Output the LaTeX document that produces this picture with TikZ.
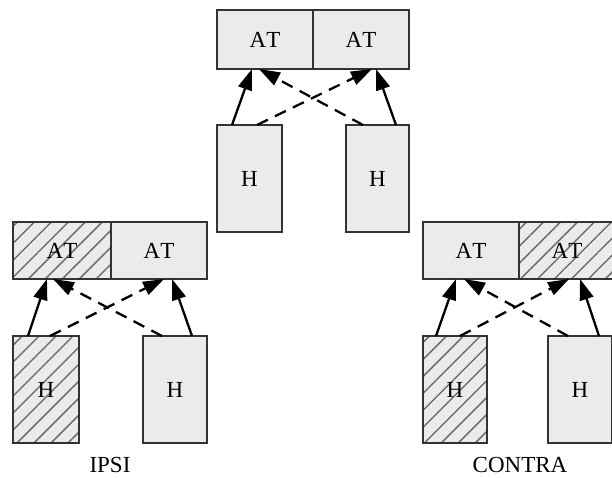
\documentclass[tikz,border=0pt]{standalone}
\usepackage{fontspec}
\setmainfont[Kerning=Off]{Liberation Serif}
\usetikzlibrary{arrows.meta,patterns.meta,calc}
\definecolor{boxfill}{HTML}{EBEBEB}
\definecolor{boxline}{HTML}{333333}
\definecolor{hatch}{HTML}{707070}
\tikzset{
  cell/.style={draw=boxline, fill=boxfill, line width=1.8pt, inner sep=0pt, outer sep=0pt,
    font=\fontsize{23}{25}\selectfont, anchor=north west},
  hatched/.style={preaction={fill=boxfill}, fill=none,
    pattern={Lines[angle=45,distance=12pt,line width=1.5pt]}, pattern color=hatch},
  solidarr/.style={line width=2.3pt, -{Triangle[length=21pt,width=14pt]}},
  dasharr/.style={line width=2.3pt, dash pattern=on 12pt off 8pt, -{Triangle[length=21pt,width=14pt]}},
  lbl/.style={font=\fontsize{23}{25}\selectfont, inner sep=0pt}
}
\begin{document}
\begin{tikzpicture}[x=1pt, y=-1pt]
\clip (0,0) rectangle (612,477);
\useasboundingbox (0,0) rectangle (612,477);
\fill[white] (0,0) rectangle (612,477);
% top group
\node[cell, minimum width=96pt, minimum height=59pt] (ta) at (217,10) {AT};
\node[cell, minimum width=96pt, minimum height=59pt] (tb) at (313,10) {AT};
\node[cell, minimum width=65pt, minimum height=107pt] (th1) at (217,125) {H};
\node[cell, minimum width=63pt, minimum height=107pt] (th2) at (346,125) {H};
\draw[solidarr] ($(th1.north west)+(15,0)$) -- ($(ta.south west)+(35,0)$);
\draw[dasharr] ($(th1.north west)+(40,0)$) -- ($(tb.south west)+(59,0)$);
\draw[dasharr] ($(th2.north west)+(17,0)$) -- ($(ta.south west)+(42,0)$);
\draw[solidarr] ($(th2.north west)+(50,0)$) -- ($(tb.south west)+(63,0)$);
% bottom-left group (IPSI)
\node[cell, hatched, minimum width=98pt, minimum height=57pt] (la) at (13,222) {AT};
\node[cell, minimum width=96pt, minimum height=57pt] (lb) at (111,222) {AT};
\node[cell, hatched, minimum width=66pt, minimum height=107pt] (lh1) at (13,336) {H};
\node[cell, minimum width=64pt, minimum height=107pt] (lh2) at (143,336) {H};
\draw[solidarr] ($(lh1.north west)+(15,0)$) -- ($(la.south west)+(34,0)$);
\draw[dasharr] ($(lh1.north west)+(37,0)$) -- ($(lb.south west)+(53,0)$);
\draw[dasharr] ($(lh2.north west)+(19,0)$) -- ($(la.south west)+(40,0)$);
\draw[solidarr] ($(lh2.north west)+(49,0)$) -- ($(lb.south west)+(61,0)$);
\node[lbl] (ipsi) at (110,465) {IPSI};
% bottom-right group (CONTRA)
\node[cell, minimum width=96pt, minimum height=57pt] (ra) at (423,222) {AT};
\node[cell, hatched, minimum width=96pt, minimum height=57pt] (rb) at (519,222) {AT};
\node[cell, hatched, minimum width=64pt, minimum height=107pt] (rh1) at (423,336) {H};
\node[cell, minimum width=64pt, minimum height=107pt] (rh2) at (548,336) {H};
\draw[solidarr] ($(rh1.north west)+(13,0)$) -- ($(ra.south west)+(33,0)$);
\draw[dasharr] ($(rh1.north west)+(37,0)$) -- ($(rb.south west)+(50,0)$);
\draw[dasharr] ($(rh2.north west)+(20,0)$) -- ($(ra.south west)+(41,0)$);
\draw[solidarr] ($(rh2.north west)+(51,0)$) -- ($(rb.south west)+(61,0)$);
\node[lbl] (contra) at (520,465) {CONTRA};
\end{tikzpicture}
\end{document}
